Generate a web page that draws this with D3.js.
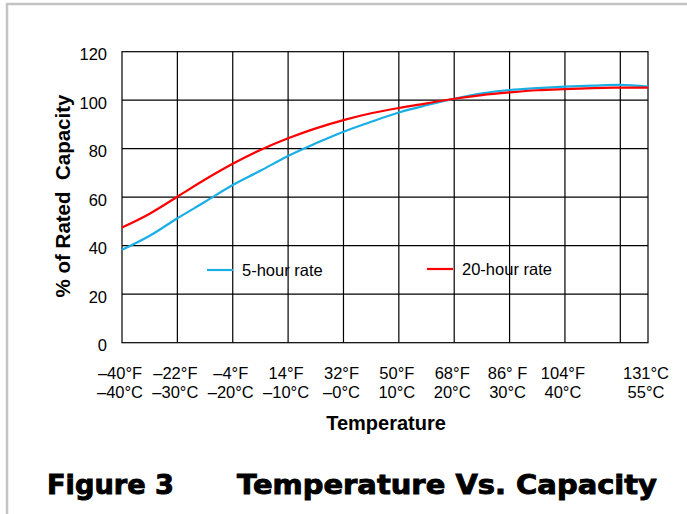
<!DOCTYPE html>
<html>
<head>
<meta charset="utf-8">
<script src="https://cdn.jsdelivr.net/npm/d3@7"></script>
<style>
  body { margin: 0; background: #fff; }
  svg { display: block; }
  text { font-family: "Liberation Sans", Arial, sans-serif; fill: #000; }
</style>
</head>
<body>
<svg id="chart" width="687" height="514"></svg>
<script>
// temperatures in °C where the curves were read
const temps  = [-40, -35, -30, -25, -20, -15, -10, -5, 0, 5, 10, 15, 20, 25, 30, 35, 40, 45, 50, 55];
const rate5  = [38.3, 44.1, 51.3, 58.1, 65, 70.9, 77, 82.2, 87, 91.1, 94.9, 97.9, 100.6, 102.8, 104.2, 105, 105.6, 106, 106.3, 105.6];
const rate20 = [47.5, 53.2, 60.2, 67.3, 73.8, 79.5, 84.3, 88.4, 91.8, 94.6, 96.8, 98.7, 100.6, 102.1, 103.2, 104.1, 104.6, 105, 105.2, 105.2];

const tickC   = [-40, -30, -20, -10, 0, 10, 20, 30, 40, 55];
const labelsF = ["\u201340°F", "\u201322°F", "\u20134°F", "14°F", "32°F", "50°F", "68°F", "86° F", "104°F", "131°C"];
const labelsC = ["\u201340°C", "\u201330°C", "\u201320°C", "\u201310°C", "\u20130°C", "10°C", "20°C", "30°C", "40°C", "55°C"];
const gridC   = [-30, -20, -10, 0, 10, 20, 30, 40, 50];
const yTicks  = [0, 20, 40, 60, 80, 100, 120];

const series = [
  { name: "5-hour rate", values: rate5, color: "#1aaee6" },
  { name: "20-hour rate", values: rate20, color: "#ff0000" }
];

const svg = d3.select("#chart");
const pLeft = 122, pRight = 648, pTop = 51.7, pBottom = 342.7;

const x = d3.scaleLinear().domain([-40, 55]).range([pLeft, pRight]);
const y = d3.scaleLinear().domain([0, 120]).range([pBottom, pTop]);

// outer gray frame (top and left edge only)
svg.append("path")
  .attr("d", "M7,514V4H687")
  .attr("fill", "none")
  .attr("stroke", "#c4c4c4")
  .attr("stroke-width", 2.5);

// grid
svg.selectAll(".vgrid")
  .data(gridC)
  .enter()
  .append("line")
  .attr("class", "vgrid")
  .attr("x1", d => x(d)).attr("x2", d => x(d))
  .attr("y1", pTop).attr("y2", pBottom)
  .attr("stroke", "#000").attr("stroke-width", 1.2);

svg.selectAll(".hgrid")
  .data(yTicks.slice(1, -1))
  .enter()
  .append("line")
  .attr("class", "hgrid")
  .attr("x1", pLeft).attr("x2", pRight)
  .attr("y1", d => y(d)).attr("y2", d => y(d))
  .attr("stroke", "#000").attr("stroke-width", 1.2);

svg.append("rect")
  .attr("x", pLeft).attr("y", pTop)
  .attr("width", pRight - pLeft).attr("height", pBottom - pTop)
  .attr("fill", "none").attr("stroke", "#000").attr("stroke-width", 1.2);

// y tick labels
svg.selectAll(".ylab")
  .data(yTicks)
  .enter()
  .append("text")
  .attr("class", "ylab")
  .attr("x", 107)
  .attr("y", d => y(d) + 8.5)
  .attr("text-anchor", "end")
  .style("font-size", "16.5px")
  .text(d => d);

// x tick labels, two rows
svg.selectAll(".xlabF")
  .data(tickC)
  .enter()
  .append("text")
  .attr("class", "xlabF")
  .attr("x", d => x(d) - 2)
  .attr("y", 379)
  .attr("text-anchor", "middle")
  .style("font-size", "16.5px")
  .text((d, i) => labelsF[i]);

svg.selectAll(".xlabC")
  .data(tickC)
  .enter()
  .append("text")
  .attr("class", "xlabC")
  .attr("x", d => x(d) - 2)
  .attr("y", 398)
  .attr("text-anchor", "middle")
  .style("font-size", "16.5px")
  .text((d, i) => labelsC[i]);

// axis titles
svg.append("text")
  .attr("x", 386).attr("y", 430)
  .attr("text-anchor", "middle")
  .style("font-size", "20px").style("font-weight", "bold")
  .text("Temperature");

svg.append("text")
  .attr("transform", "translate(70,196) rotate(-90)")
  .attr("text-anchor", "middle")
  .style("font-size", "20.5px").style("font-weight", "bold")
  .style("white-space", "pre")
  .text("% of Rated  Capacity");

// curves
const line = d3.line()
  .x((d, i) => x(temps[i]))
  .y(d => y(d))
  .curve(d3.curveCatmullRom.alpha(0.5));

svg.selectAll(".curve")
  .data(series)
  .enter()
  .append("path")
  .attr("class", "curve")
  .attr("d", d => line(d.values))
  .attr("fill", "none")
  .attr("stroke", d => d.color)
  .attr("stroke-width", 2.2);

// legend
const legendPos = [{ lx: 207, ly: 270 }, { lx: 427, ly: 269 }];
const legend = svg.selectAll(".legend")
  .data(series)
  .enter()
  .append("g")
  .attr("class", "legend")
  .attr("transform", (d, i) => "translate(" + legendPos[i].lx + "," + legendPos[i].ly + ")");

legend.append("line")
  .attr("x1", 0).attr("x2", 26)
  .attr("stroke", d => d.color)
  .attr("stroke-width", 2.2);

legend.append("text")
  .attr("x", 35).attr("y", 5.5)
  .style("font-size", "16.5px")
  .text(d => d.name);

// figure caption
svg.append("text")
  .attr("x", 47).attr("y", 494)
  .style("font-family", "'DejaVu Sans', sans-serif")
  .style("font-size", "27px").style("font-weight", "bold")
  .style("stroke", "#000").style("stroke-width", 0.9)
  .attr("textLength", 127).attr("lengthAdjust", "spacingAndGlyphs")
  .text("Figure 3");

svg.append("text")
  .attr("x", 237).attr("y", 494)
  .style("font-family", "'DejaVu Sans', sans-serif")
  .style("font-size", "27px").style("font-weight", "bold")
  .style("stroke", "#000").style("stroke-width", 0.9)
  .attr("textLength", 420).attr("lengthAdjust", "spacingAndGlyphs")
  .text("Temperature Vs. Capacity");
</script>
</body>
</html>
